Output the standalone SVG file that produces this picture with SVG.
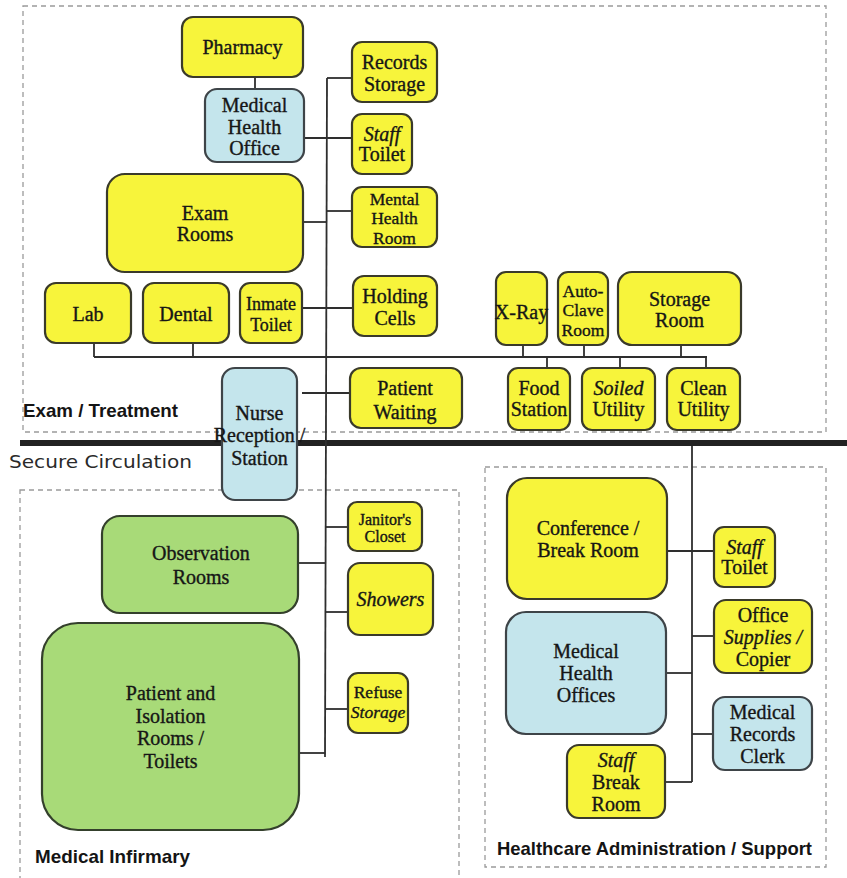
<svg xmlns="http://www.w3.org/2000/svg" width="847" height="878" viewBox="0 0 847 878">
  <style>
    .zone { fill: none; stroke: #9a9a9a; stroke-width: 1.3; stroke-dasharray: 5 4; }
    .wire { fill: none; stroke: #2e2e2e; stroke-width: 1.8; }
    .y { fill: #F7F43B; stroke: #3a3a2a; stroke-width: 2.2; }
    .b { fill: #C4E5EC; stroke: #3e4448; stroke-width: 2.2; }
    .g { fill: #A8DA78; stroke: #34402c; stroke-width: 2.2; }
    .t { font-family: "Liberation Serif", "Times New Roman", serif; font-size: 20px; fill: #161616; stroke: #161616; stroke-width: 0.35; text-anchor: middle; }
    .s19 { font-size: 19px; }
    .s18 { font-size: 18px; }
    .s17 { font-size: 17.5px; }
    .s16 { font-size: 16px; }
    .it { font-style: italic; }
    .zl { font-family: "Liberation Sans", Arial, sans-serif; font-weight: bold; font-size: 18.5px; fill: #141414; }
    .circ { font-family: "DejaVu Sans", "Liberation Sans", sans-serif; font-size: 18px; fill: #2a2a2a; }
  </style>

  <!-- zone outlines -->
  <g id="zones">
    <rect class="zone" x="23" y="6" width="803" height="426"/>
    <rect class="zone" x="20" y="490" width="439" height="400"/>
    <rect class="zone" x="485" y="467" width="341" height="400"/>
  </g>

  <!-- secure circulation corridor -->
  <line x1="20" y1="443" x2="847" y2="443" stroke="#222" stroke-width="6"/>

  <!-- connectors -->
  <g id="connectors" class="wire">
    <line x1="255" y1="77" x2="255" y2="89"/>
    <line x1="327" y1="78" x2="325" y2="757"/>
    <line x1="327" y1="78" x2="352" y2="78"/>
    <line x1="304" y1="138" x2="352" y2="138"/>
    <line x1="327" y1="211" x2="352" y2="211"/>
    <line x1="303" y1="222" x2="327" y2="222"/>
    <line x1="302" y1="308" x2="353" y2="308"/>
    <line x1="94" y1="357" x2="707" y2="357"/>
    <line x1="94" y1="343" x2="94" y2="357"/>
    <line x1="193" y1="343" x2="193" y2="357"/>
    <line x1="523" y1="345" x2="523" y2="357"/>
    <line x1="584" y1="345" x2="584" y2="357"/>
    <line x1="681" y1="345" x2="681" y2="357"/>
    <line x1="547" y1="357" x2="547" y2="368"/>
    <line x1="620" y1="357" x2="620" y2="368"/>
    <line x1="706" y1="357" x2="706" y2="368"/>
    <line x1="302" y1="393" x2="350" y2="393"/>
    <line x1="325" y1="527" x2="348" y2="527"/>
    <line x1="298" y1="563" x2="325" y2="563"/>
    <line x1="325" y1="612" x2="348" y2="612"/>
    <line x1="325" y1="709" x2="348" y2="709"/>
    <line x1="299" y1="753" x2="325" y2="753"/>
    <line x1="692" y1="446" x2="692" y2="782"/>
    <line x1="667" y1="551" x2="714" y2="551"/>
    <line x1="692" y1="636" x2="714" y2="636"/>
    <line x1="666" y1="673" x2="692" y2="673"/>
    <line x1="692" y1="734" x2="713" y2="734"/>
    <line x1="665" y1="782" x2="692" y2="782"/>
  </g>

  <!-- Exam / Treatment rooms -->
  <g id="pharmacy">
    <rect class="y" x="182" y="17" width="121" height="60" rx="11"/>
    <text class="t" x="242.5" y="54">Pharmacy</text>
  </g>
  <g id="medical-health-office">
    <rect class="b" x="205" y="89" width="99" height="73" rx="12"/>
    <text class="t" x="254.5" y="112">Medical</text>
    <text class="t" x="254.5" y="134">Health</text>
    <text class="t" x="254.5" y="155">Office</text>
  </g>
  <g id="records-storage">
    <rect class="y" x="352" y="42" width="85" height="60" rx="10"/>
    <text class="t" x="394.5" y="69">Records</text>
    <text class="t" x="394.5" y="91">Storage</text>
  </g>
  <g id="staff-toilet-exam">
    <rect class="y" x="352" y="114" width="60" height="60" rx="10"/>
    <text class="t it" x="382" y="141">Staff</text>
    <text class="t" x="382" y="161">Toilet</text>
  </g>
  <g id="mental-health-room">
    <rect class="y" x="352" y="187" width="85" height="60" rx="10"/>
    <text class="t s17" x="394.5" y="204.5">Mental</text>
    <text class="t s17" x="394.5" y="224">Health</text>
    <text class="t s17" x="394.5" y="243.5">Room</text>
  </g>
  <g id="exam-rooms">
    <rect class="y" x="107" y="174" width="196" height="98" rx="18"/>
    <text class="t" x="205" y="220">Exam</text>
    <text class="t" x="205" y="241">Rooms</text>
  </g>
  <g id="lab">
    <rect class="y" x="45" y="283" width="86" height="60" rx="11"/>
    <text class="t" x="88" y="321">Lab</text>
  </g>
  <g id="dental">
    <rect class="y" x="143" y="283" width="86" height="60" rx="11"/>
    <text class="t" x="186" y="321">Dental</text>
  </g>
  <g id="inmate-toilet">
    <rect class="y" x="240" y="283" width="62" height="60" rx="10"/>
    <text class="t s18" x="271" y="310">Inmate</text>
    <text class="t s18" x="271" y="330.5">Toilet</text>
  </g>
  <g id="holding-cells">
    <rect class="y" x="353" y="276" width="84" height="60" rx="11"/>
    <text class="t" x="395" y="303">Holding</text>
    <text class="t" x="395" y="325">Cells</text>
  </g>
  <g id="x-ray">
    <rect class="y" x="496" y="272" width="51" height="73" rx="10"/>
    <text class="t" x="521.5" y="319">X-Ray</text>
  </g>
  <g id="autoclave-room">
    <rect class="y" x="558" y="272" width="50" height="73" rx="10"/>
    <text class="t s17" x="583" y="296.5">Auto-</text>
    <text class="t s17" x="583" y="316">Clave</text>
    <text class="t s17" x="583" y="335.5">Room</text>
  </g>
  <g id="storage-room">
    <rect class="y" x="618" y="272" width="123" height="73" rx="14"/>
    <text class="t" x="679.5" y="306">Storage</text>
    <text class="t" x="679.5" y="327">Room</text>
  </g>
  <g id="food-station">
    <rect class="y" x="508" y="368" width="62" height="62" rx="10"/>
    <text class="t" x="539" y="395">Food</text>
    <text class="t" x="539" y="416">Station</text>
  </g>
  <g id="soiled-utility">
    <rect class="y" x="582" y="368" width="73" height="62" rx="10"/>
    <text class="t it" x="618.5" y="395">Soiled</text>
    <text class="t" x="618.5" y="416">Utility</text>
  </g>
  <g id="clean-utility">
    <rect class="y" x="667" y="368" width="73" height="62" rx="10"/>
    <text class="t" x="703.5" y="395">Clean</text>
    <text class="t" x="703.5" y="416">Utility</text>
  </g>
  <g id="patient-waiting">
    <rect class="y" x="350" y="368" width="112" height="60" rx="11"/>
    <text class="t" x="405" y="395">Patient</text>
    <text class="t" x="405" y="419">Waiting</text>
  </g>
  <g id="nurse-station">
    <rect class="b" x="222" y="368" width="75" height="132" rx="13"/>
    <text class="t" x="259.5" y="420">Nurse</text>
    <text class="t" x="259.5" y="442">Reception /</text>
    <text class="t" x="259.5" y="465">Station</text>
  </g>

  <!-- Medical Infirmary rooms -->
  <g id="janitors-closet">
    <rect class="y" x="348" y="502" width="74" height="49" rx="9"/>
    <text class="t s16" x="385" y="525">Janitor's</text>
    <text class="t s16" x="385" y="542">Closet</text>
  </g>
  <g id="observation-rooms">
    <rect class="g" x="102" y="516" width="196" height="97" rx="18"/>
    <text class="t" x="201" y="560">Observation</text>
    <text class="t" x="201" y="584">Rooms</text>
  </g>
  <g id="showers">
    <rect class="y" x="348" y="563" width="85" height="72" rx="12"/>
    <text class="t it" x="390.5" y="606">Showers</text>
  </g>
  <g id="refuse-storage">
    <rect class="y" x="348" y="673" width="60" height="60" rx="10"/>
    <text class="t s17" x="378" y="698">Refuse</text>
    <text class="t s17 it" x="378" y="718">Storage</text>
  </g>
  <g id="patient-isolation">
    <rect class="g" x="42" y="623" width="257" height="207" rx="36"/>
    <text class="t" x="170.5" y="700">Patient and</text>
    <text class="t" x="170.5" y="723">Isolation</text>
    <text class="t" x="170.5" y="745">Rooms /</text>
    <text class="t" x="170.5" y="768">Toilets</text>
  </g>

  <!-- Healthcare Administration / Support rooms -->
  <g id="conference-break">
    <rect class="y" x="507" y="478" width="160" height="121" rx="20"/>
    <text class="t" x="588" y="535">Conference /</text>
    <text class="t" x="588" y="557">Break Room</text>
  </g>
  <g id="staff-toilet-admin">
    <rect class="y" x="714" y="527" width="61" height="60" rx="10"/>
    <text class="t it" x="744.5" y="554">Staff</text>
    <text class="t" x="744.5" y="574">Toilet</text>
  </g>
  <g id="office-supplies">
    <rect class="y" x="714" y="600" width="98" height="73" rx="12"/>
    <text class="t" x="763" y="622">Office</text>
    <text class="t it" x="763" y="644">Supplies /</text>
    <text class="t" x="763" y="666">Copier</text>
  </g>
  <g id="medical-health-offices">
    <rect class="b" x="506" y="612" width="160" height="122" rx="20"/>
    <text class="t" x="586" y="658">Medical</text>
    <text class="t" x="586" y="680">Health</text>
    <text class="t" x="586" y="702">Offices</text>
  </g>
  <g id="medical-records-clerk">
    <rect class="b" x="713" y="697" width="99" height="73" rx="12"/>
    <text class="t" x="762.5" y="719">Medical</text>
    <text class="t" x="762.5" y="741">Records</text>
    <text class="t" x="762.5" y="763">Clerk</text>
  </g>
  <g id="staff-break-room">
    <rect class="y" x="567" y="745" width="98" height="73" rx="12"/>
    <text class="t it" x="616" y="767">Staff</text>
    <text class="t" x="616" y="789">Break</text>
    <text class="t" x="616" y="811">Room</text>
  </g>

  <!-- zone names -->
  <g id="labels">
    <text class="zl" x="23" y="417" textLength="155" lengthAdjust="spacingAndGlyphs">Exam / Treatment</text>
    <text class="circ" x="9" y="468" textLength="183" lengthAdjust="spacingAndGlyphs">Secure Circulation</text>
    <text class="zl" x="35" y="863" textLength="155" lengthAdjust="spacingAndGlyphs">Medical Infirmary</text>
    <text class="zl" x="497" y="855" textLength="315" lengthAdjust="spacingAndGlyphs">Healthcare Administration / Support</text>
  </g>
</svg>
